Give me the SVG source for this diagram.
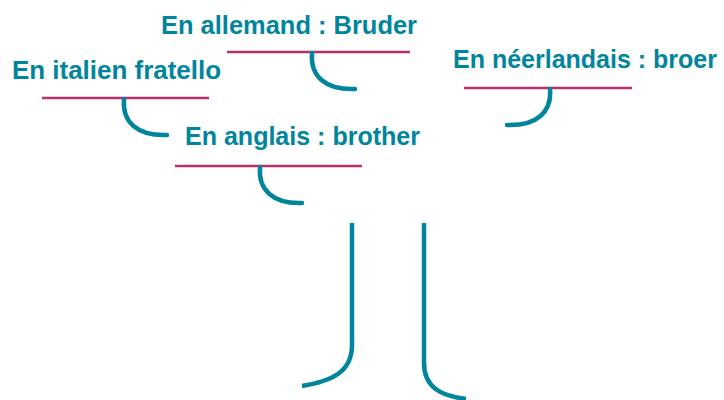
<svg xmlns="http://www.w3.org/2000/svg" width="724" height="400" viewBox="0 0 724 400">
<style>
.t{font-family:"Liberation Sans",Arial,sans-serif;font-weight:bold;font-size:26px;fill:#00859c}
.u{stroke:#b7306b;stroke-width:2.6;fill:none}
.c{stroke:#00859c;stroke-width:4.5;fill:none;stroke-linecap:round}
</style>
<rect width="724" height="400" fill="#fff"/>
<g id="allemand">
<text class="t" x="161" y="34" textLength="256" lengthAdjust="spacingAndGlyphs">En allemand : Bruder</text>
<line class="u" x1="227" y1="52" x2="410" y2="52"/>
</g>
<g id="italien">
<text class="t" x="12" y="79" textLength="209" lengthAdjust="spacingAndGlyphs">En italien fratello</text>
<line class="u" x1="42" y1="98" x2="209" y2="98"/>
</g>
<g id="anglais">
<text class="t" x="185" y="145" textLength="235" lengthAdjust="spacingAndGlyphs">En anglais : brother</text>
<line class="u" x1="175" y1="166" x2="362" y2="166"/>
</g>
<g id="neerlandais">
<text class="t" x="453" y="68" style="font-size:25px" textLength="264" lengthAdjust="spacingAndGlyphs">En néerlandais : broer</text>
<line class="u" x1="464" y1="88" x2="632" y2="88"/>
</g>
<g id="connectors">
<path class="c" d="M312,53 C310,76 325,90 355,89"/>
<path class="c" d="M124,99 C122,122 137,136 167,135"/>
<path class="c" d="M260,167 C258,190 273,204 302,203"/>
<path class="c" d="M550,89 C552,112 537,126 507,125"/>
<path class="c" d="M352,223 L352,345 C352,372 332,381 302,386" style="stroke-linecap:butt"/>
<path class="c" d="M424,223 L424,363 C424,388 442,396 466,399" style="stroke-linecap:butt"/>
</g>
</svg>
